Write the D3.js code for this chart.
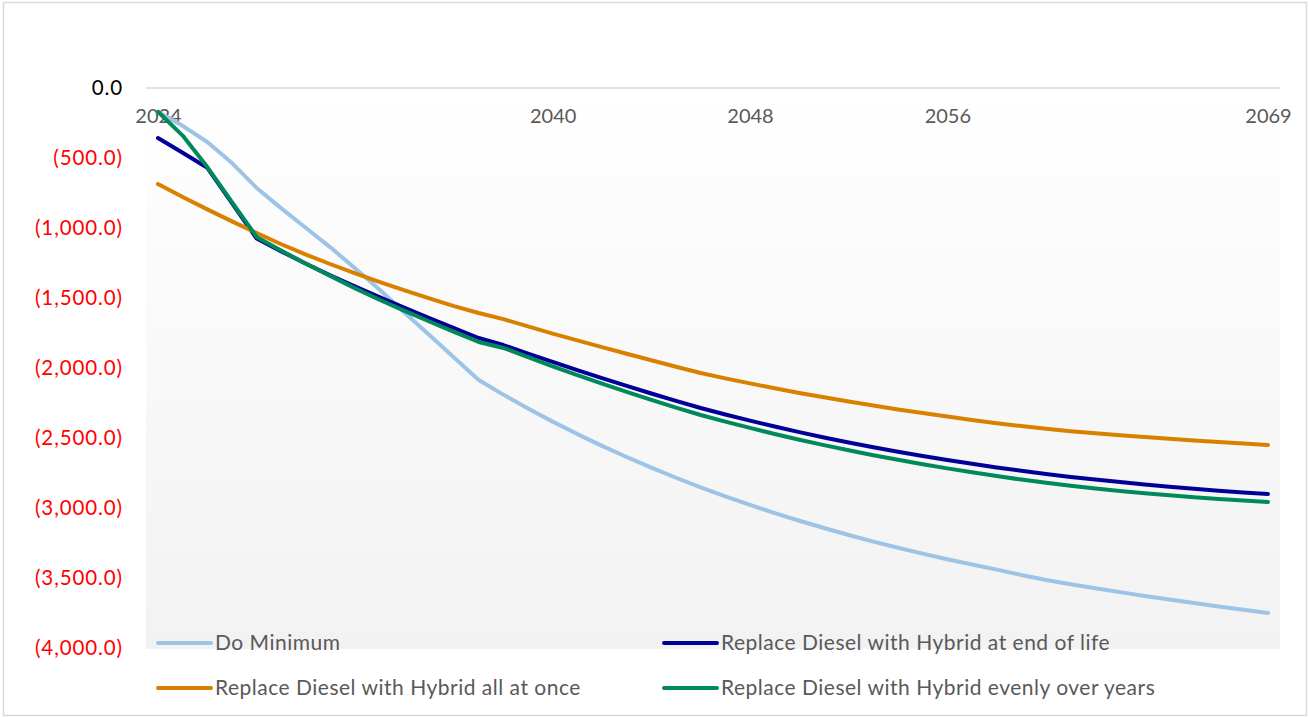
<!DOCTYPE html>
<html>
<head>
<meta charset="utf-8">
<script src="https://cdn.jsdelivr.net/npm/d3@7"></script>
<style>
    body { margin: 0; background: #ffffff; }
    svg { display: block; font-family: Lato, "Open Sans", sans-serif; }
</style>
</head>
<body>
<div class="viz1"></div>
<script>
var years = [2024, 2025, 2026, 2027, 2028, 2029, 2030, 2031, 2032, 2033,
             2034, 2035, 2036, 2037, 2038, 2039, 2040, 2041, 2042, 2043,
             2044, 2045, 2046, 2047, 2048, 2049, 2050, 2051, 2052, 2053,
             2054, 2055, 2056, 2057, 2058, 2059, 2060, 2061, 2062, 2063,
             2064, 2065, 2066, 2067, 2068, 2069];

var doMinimum = [-171, -270, -386, -536, -714, -860, -1000, -1140, -1290, -1443,
                 -1605, -1765, -1925, -2086, -2190, -2289, -2383, -2472, -2556, -2636,
                 -2712, -2784, -2852, -2917, -2978, -3036, -3091, -3143, -3193, -3240,
                 -3284, -3326, -3366, -3404, -3440, -3478, -3514, -3544, -3573, -3601,
                 -3628, -3654, -3679, -3703, -3727, -3750];

var endOfLife = [-357, -462, -570, -822, -1075, -1167, -1255, -1339, -1419, -1495,
                 -1570, -1643, -1715, -1786, -1836, -1897, -1957, -2015, -2072, -2128,
                 -2182, -2235, -2286, -2332, -2376, -2418, -2458, -2496, -2532, -2566,
                 -2598, -2628, -2657, -2684, -2710, -2734, -2757, -2778, -2797, -2815,
                 -2832, -2848, -2863, -2877, -2889, -2900];

var allAtOnce = [-686, -778, -867, -953, -1036, -1116, -1190, -1259, -1324, -1386,
                 -1445, -1503, -1558, -1607, -1651, -1703, -1754, -1803, -1851, -1898,
                 -1945, -1991, -2036, -2074, -2110, -2145, -2178, -2209, -2239, -2268,
                 -2296, -2322, -2347, -2371, -2394, -2415, -2434, -2451, -2466, -2480,
                 -2493, -2506, -2518, -2529, -2540, -2550];

var evenlyOverYears = [-170, -340, -565, -815, -1064, -1162, -1255, -1344, -1431, -1514,
                       -1592, -1668, -1742, -1814, -1857, -1923, -1988, -2051, -2112, -2171,
                       -2228, -2283, -2336, -2383, -2428, -2471, -2512, -2551, -2588, -2623,
                       -2656, -2687, -2717, -2745, -2772, -2797, -2820, -2841, -2860, -2878,
                       -2894, -2909, -2923, -2936, -2947, -2957];

var xTicks = [2024, 2040, 2048, 2056, 2069];
var yTicks = [0, -500, -1000, -1500, -2000, -2500, -3000, -3500, -4000];

var seriesNames = ["Do Minimum", "Replace Diesel with Hybrid at end of life",
                   "Replace Diesel with Hybrid all at once", "Replace Diesel with Hybrid evenly over years"];

var w = 1309;
var h = 717;

var series = [
    { name: seriesNames[0], values: doMinimum, color: "#9dc3e6" },
    { name: seriesNames[1], values: endOfLife, color: "#000099" },
    { name: seriesNames[2], values: allAtOnce, color: "#d98000" },
    { name: seriesNames[3], values: evenlyOverYears, color: "#00895a" }
];

var xScale = d3.scaleLinear()
            .domain([2024, 2069])
            .range([158, 1268]);

var yScale = d3.scaleLinear()
            .domain([-4000, 0])
            .range([648, 88]);

var svg = d3.select(".viz1")
        .append("svg")
        .attr("width", w)
        .attr("height", h);

// plot area gradient
var grad = svg.append("defs")
    .append("linearGradient")
    .attr("id", "plotbg")
    .attr("x1", 0).attr("y1", 0)
    .attr("x2", 0).attr("y2", 1);
grad.append("stop").attr("offset", "0%").attr("stop-color", "#ffffff");
grad.append("stop").attr("offset", "100%").attr("stop-color", "#f2f2f2");

// chart border
svg.append("rect")
    .attr("x", 3.5)
    .attr("y", 2.5)
    .attr("width", 1303)
    .attr("height", 713)
    .attr("fill", "none")
    .attr("stroke", "#d9d9d9")
    .attr("stroke-width", 1.5);

svg.append("rect")
    .attr("x", 146)
    .attr("y", yScale(0))
    .attr("width", 1280 - 146)
    .attr("height", yScale(-4000) + 1 - yScale(0))
    .attr("fill", "url(#plotbg)");

// zero line
svg.append("line")
    .attr("x1", 146)
    .attr("x2", 1280)
    .attr("y1", yScale(0))
    .attr("y2", yScale(0))
    .attr("stroke", "#d9d9d9")
    .attr("stroke-width", 1.5);

//// AXES ////
var yAxis = d3.axisLeft(yScale)
            .tickValues(yTicks)
            .tickSize(0)
            .tickPadding(0)
            .tickFormat(function(d) {
                if (d === 0) return "0.0";
                return "(" + d3.format(",.1f")(-d) + ")";
            });

var gy = svg.append("g")
     .attr("class", "y axis")
     .attr("transform", "translate(123,0)")
     .call(yAxis);
gy.select(".domain").remove();
gy.selectAll("text")
    .attr("font-size", "20.5px")
    .attr("font-family", "Lato, sans-serif")
    .attr("letter-spacing", "0.9px")
    .attr("fill", function(d) { return d === 0 ? "#000000" : "#ff0000"; });

var xAxis = d3.axisBottom(xScale)
            .tickValues(xTicks)
            .tickSize(0)
            .tickPadding(21)
            .tickFormat(d3.format("d"));

var gx = svg.append("g")
     .attr("class", "x axis")
     .attr("transform", "translate(0," + yScale(0) + ")")
     .call(xAxis);
gx.select(".domain").remove();
gx.selectAll("text")
    .attr("font-size", "20px")
    .attr("font-family", "Lato, sans-serif")
    .attr("fill", "#595959");

//// LINES ////
var line = d3.line()
    .x(function(d, i) { return xScale(years[i]); })
    .y(function(d) { return yScale(d); });

svg.selectAll(".series")
    .data(series)
    .enter()
    .append("path")
    .attr("class", "series")
    .attr("d", function(d) { return line(d.values); })
    .attr("fill", "none")
    .attr("stroke", function(d) { return d.color; })
    .attr("stroke-width", 4)
    .attr("stroke-linecap", "round")
    .attr("stroke-linejoin", "round");

//// LEGEND ////
var legendPos = [[158, 643], [664, 643], [158, 688], [664, 688]];

var legend = svg.selectAll(".legend")
    .data(series)
    .enter()
    .append("g")
    .attr("class", "legend")
    .attr("transform", function(d, i) {
        return "translate(" + legendPos[i][0] + "," + legendPos[i][1] + ")";
    });

legend.append("line")
    .attr("x1", 0)
    .attr("x2", 53)
    .attr("stroke", function(d) { return d.color; })
    .attr("stroke-width", 4)
    .attr("stroke-linecap", "round");

legend.append("text")
    .attr("x", 57)
    .attr("dy", "0.35em")
    .attr("font-size", "21px")
    .attr("letter-spacing", "0.5px")
    .attr("fill", "#595959")
    .text(function(d) { return d.name; });
</script>
</body>
</html>
